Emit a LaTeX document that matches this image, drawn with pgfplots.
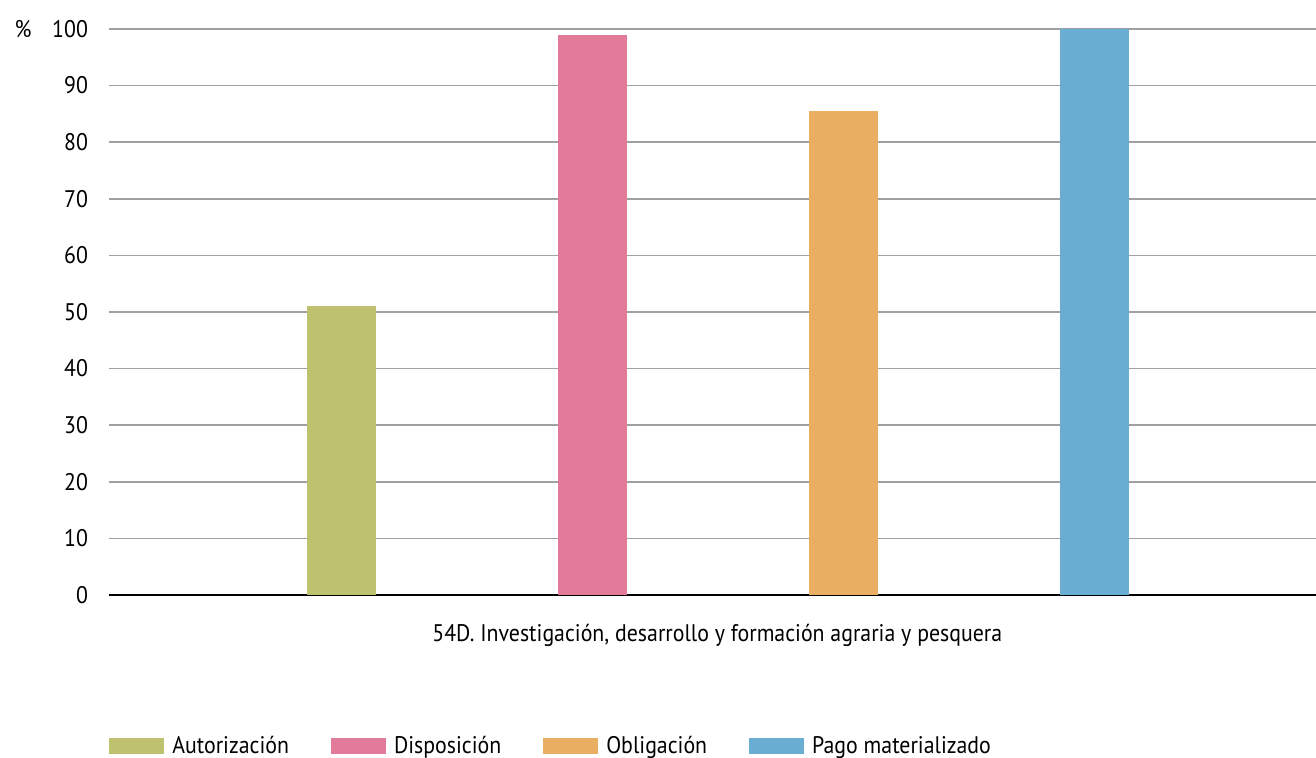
\documentclass[border=0pt]{standalone}
\usepackage{pgfplots}
\pgfplotsset{compat=1.18}
\usepackage{fontspec}
\setmainfont{PT Sans}[FakeStretch=0.91]

\definecolor{cAut}{RGB}{190,194,110}
\definecolor{cDis}{RGB}{226,122,154}
\definecolor{cObl}{RGB}{233,174,98}
\definecolor{cPag}{RGB}{105,174,210}

\begin{document}
\begin{tikzpicture}
\useasboundingbox (0,0) rectangle (658pt,379pt);
\begin{axis}[
    at={(54.5pt,81.5pt)}, anchor=south west,
    scale only axis,
    width=603.5pt, height=283pt,
    xmin=109, xmax=1316,
    ymin=0, ymax=100,
    ytick={0,10,...,100},
    xtick=\empty,
    axis x line*=bottom,
    axis y line*=left,
    x axis line style={black, line width=1pt, -},
    y axis line style={draw=none},
    ymajorgrids,
    grid style={draw={rgb,255:red,160;green,160;blue,160}, line width=0.8pt},
    major tick length=0pt,
    tick label style={font=\fontsize{12}{14}\selectfont},
    yticklabel style={xshift=-7pt},
    /pgf/number format/assume math mode=true,
    ybar, bar width=34.5pt, bar shift=0pt,
    xlabel={54D. Investigación, desarrollo y formación agraria y pesquera},
    xlabel style={font=\fontsize{12}{14}\selectfont, at={(axis description cs:0.504,0)}, anchor=north, yshift=-11pt},
    ylabel={\%},
    ylabel style={font=\fontsize{12}{14}\selectfont, rotate=-90, at={(axis description cs:0,1)}, anchor=center, xshift=-43pt},
    legend columns=4,
    legend style={at={(rel axis cs:0,-0.267)}, anchor=west, draw=none, fill=none,
        inner sep=0pt, font=\fontsize{12}{14}\selectfont,
        /tikz/every even column/.append style={column sep=21pt},
        nodes={inner sep=0pt}},
    legend image code/.code={\fill[#1] (0pt,-4pt) rectangle (27.5pt,4pt);},
    legend cell align=left,
    /tikz/every odd column/.append style={column sep=4pt},
]
\addplot[fill=cAut, draw=none] coordinates {(341.5,51)};
\addplot[fill=cDis, draw=none] coordinates {(592,99)};
\addplot[fill=cObl, draw=none] coordinates {(843.5,85.5)};
\addplot[fill=cPag, draw=none] coordinates {(1094.5,100)};
\legend{Autorización, Disposición, Obligación, Pago materializado}
\end{axis}
\end{tikzpicture}
\end{document}
